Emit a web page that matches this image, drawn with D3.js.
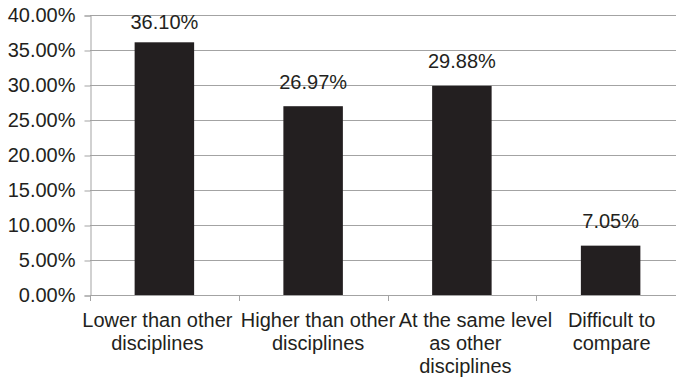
<!DOCTYPE html>
<html>
<head>
<meta charset="utf-8">
<script src="https://cdn.jsdelivr.net/npm/d3@7"></script>
<style>
  html, body { margin: 0; padding: 0; background: #fff; }
  svg { display: block; }
  text { font-family: "Liberation Sans", Arial, sans-serif; fill: #231f20; }
</style>
</head>
<body>
<svg id="chart" width="676" height="380"></svg>
<script>
// Survey responses: share of respondents per answer
const categories = [
  ["Lower than other", "disciplines"],
  ["Higher than other", "disciplines"],
  ["At the same level", "as other", "disciplines"],
  ["Difficult to", "compare"]
];
const values = [36.10, 26.97, 29.88, 7.05];
const yTicks = [0, 5, 10, 15, 20, 25, 30, 35, 40];

const svg = d3.select("#chart");
const plotLeft = 90, plotRight = 685, plotTop = 15, plotBottom = 295;
const fontSize = 20;
// horizontal nudges for the category label blocks
const labelNudge = [-7, 5, 3.5, 1];

const x = d3.scaleBand()
  .domain(d3.range(categories.length))
  .range([plotLeft, plotRight])
  .padding(0);
const barW = x.bandwidth() * 0.4;

const y = d3.scaleLinear().domain([0, 40]).range([plotBottom, plotTop]);

// horizontal gridlines
svg.append("g")
  .selectAll("line")
  .data(yTicks)
  .join("line")
  .attr("x1", plotLeft).attr("x2", 676)
  .attr("y1", d => Math.round(y(d)) + 0.5)
  .attr("y2", d => Math.round(y(d)) + 0.5)
  .attr("stroke", "#a3a3a3")
  .attr("stroke-width", 1);

// y axis
const yAxis = d3.axisLeft(y)
  .tickValues(yTicks)
  .tickFormat(d => d.toFixed(2) + "%")
  .tickSize(6)
  .tickPadding(9);
const gy = svg.append("g")
  .attr("transform", `translate(${plotLeft + 0.5},0.5)`)
  .call(yAxis);
gy.select(".domain").attr("stroke", "#a3a3a3");
gy.selectAll(".tick line").attr("stroke", "#a3a3a3");
gy.selectAll(".tick text")
  .attr("font-size", fontSize)
  .attr("fill", "#231f20")
  .attr("font-family", "Liberation Sans, Arial, sans-serif");

// bars
svg.append("g")
  .selectAll("rect")
  .data(values)
  .join("rect")
  .attr("x", (d, i) => x(i) + (x.bandwidth() - barW) / 2)
  .attr("width", barW)
  .attr("y", d => y(d))
  .attr("height", d => y(0) - y(d))
  .attr("fill", "#231f20");

// x axis baseline and category boundary ticks
const boundaries = d3.range(categories.length + 1).map(i => plotLeft + i * x.step());
svg.append("line")
  .attr("x1", plotLeft).attr("x2", 676)
  .attr("y1", plotBottom + 0.5).attr("y2", plotBottom + 0.5)
  .attr("stroke", "#a3a3a3");
svg.append("g")
  .selectAll("line")
  .data(boundaries)
  .join("line")
  .attr("x1", d => Math.round(d) + 0.5).attr("x2", d => Math.round(d) + 0.5)
  .attr("y1", plotBottom).attr("y2", plotBottom + 6)
  .attr("stroke", "#a3a3a3");

// value labels, kept inside the top of the chart
svg.append("g")
  .selectAll("text")
  .data(values)
  .join("text")
  .attr("x", (d, i) => x(i) + x.bandwidth() / 2)
  .attr("y", d => Math.max(y(d) - 17.5, 28.5))
  .attr("text-anchor", "middle")
  .attr("font-size", fontSize)
  .text(d => d.toFixed(2) + "%");

// category labels: one text per line, centred under the band
const catG = svg.append("g");
const lineNodes = [];
categories.forEach((lines, i) => {
  const cx = x(i) + x.bandwidth() / 2 + labelNudge[i];
  lineNodes.push(lines.map((t, j) =>
    catG.append("text")
      .attr("x", cx)
      .attr("y", 327 + j * 23)
      .attr("text-anchor", "middle")
      .attr("font-size", fontSize)
      .text(t)
      .node()
  ));
});
// push a line to the right when it would collide with the same line of the previous label
for (let i = 1; i < lineNodes.length; i++) {
  lineNodes[i].forEach((node, j) => {
    const prev = lineNodes[i - 1][j];
    if (!prev) return;
    const pb = prev.getBBox(), b = node.getBBox();
    const gap = 3;
    if (b.x < pb.x + pb.width + gap) {
      const shift = pb.x + pb.width + gap - b.x;
      node.setAttribute("x", +node.getAttribute("x") + shift);
    }
  });
}
</script>
</body>
</html>
